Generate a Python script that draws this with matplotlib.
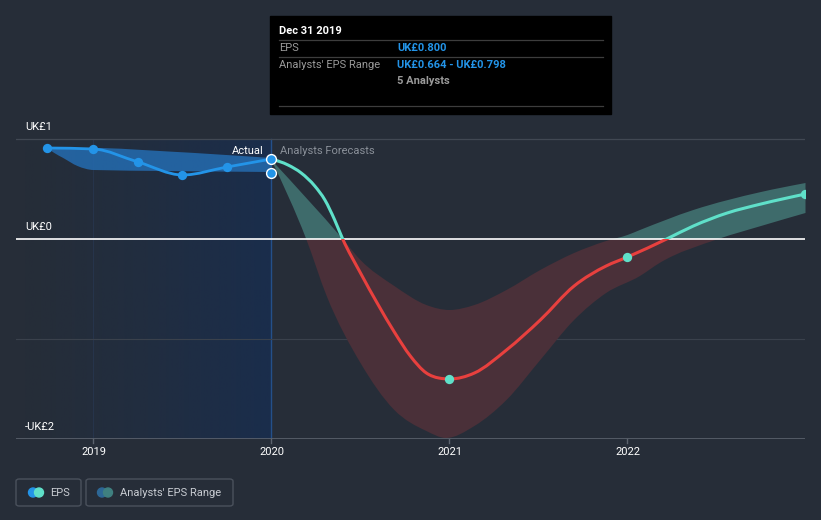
import numpy as np
import matplotlib
matplotlib.use("Agg")
import matplotlib.pyplot as plt
from matplotlib.patches import Rectangle, FancyBboxPatch, Circle, PathPatch
from matplotlib.path import Path
from matplotlib.colors import LinearSegmentedColormap

plt.rcParams['font.family'] = ['Roboto', 'DejaVu Sans']

# --- data ---
hist_years = [2018.74, 2019.0, 2019.25, 2019.5, 2019.75, 2020.0]
hist_eps = [0.91, 0.90, 0.77, 0.64, 0.72, 0.80]

hist_band_years = [2018.74, 2018.78, 2018.83, 2018.91, 2019.0, 2019.41, 2020.0]
hist_band_hi = [0.91, 0.91, 0.91, 0.91, 0.91, 0.876, 0.81]
hist_band_lo = [0.91, 0.86, 0.81, 0.73, 0.69, 0.68, 0.67]

est_low_2020 = 0.664

fc_years = [2020.0, 2020.093, 2020.167, 2020.243, 2020.30, 2020.355, 2020.40, 2020.50,
            2020.60, 2020.69, 2020.78, 2020.87, 2020.94, 2021.0, 2021.14, 2021.32,
            2021.51, 2021.70, 2021.88, 2022.0, 2022.22, 2022.37, 2022.56, 2022.75, 2023.0]
fc_eps = [0.80, 0.74, 0.66, 0.53, 0.39, 0.19, 0.0, -0.34,
          -0.66, -0.93, -1.17, -1.34, -1.39, -1.40, -1.34, -1.11,
          -0.81, -0.47, -0.27, -0.18, 0.0, 0.13, 0.26, 0.35, 0.45]

fc_dot_years = [2021.0, 2022.0, 2023.0]
fc_dot_eps = [-1.40, -0.18, 0.45]

hi_years = [2020.0, 2020.40, 2020.50, 2020.69, 2020.87, 2021.0, 2021.14, 2021.32,
            2021.51, 2021.70, 2021.88, 2022.0, 2022.07, 2022.37, 2022.75, 2023.0]
hi_eps = [0.79, 0.0, -0.21, -0.47, -0.66, -0.71, -0.66, -0.51,
          -0.31, -0.14, -0.02, 0.04, 0.09, 0.29, 0.47, 0.56]

lo_years = [2020.0, 2020.195, 2020.31, 2020.50, 2020.69, 2020.87, 2020.98, 2021.14,
            2021.32, 2021.51, 2021.70, 2021.88, 2022.07, 2022.18, 2022.51, 2022.75, 2023.0]
lo_eps = [0.79, 0.0, -0.57, -1.24, -1.71, -1.92, -1.99, -1.87,
          -1.61, -1.21, -0.81, -0.54, -0.37, -0.24, 0.0, 0.13, 0.26]

year_ticks = [2019, 2020, 2021, 2022]
y_labels = {1: "UK£1", 0: "UK£0", -2: "-UK£2"}

BG = '#262d38'
BLUE = '#2394e8'
CYAN = '#5fe0c9'
RED = '#e8403e'

W, H = 821, 520


def fx(px):
    return px / W


def fy(py):
    return 1 - py / H


def curve_verts(xs, ys):
    # monotone cubic bezier through the points (same idea as d3 curveMonotoneX)
    x = np.asarray(xs, float)
    y = np.asarray(ys, float)
    h = np.diff(x)
    d = np.diff(y) / h
    m = np.zeros(len(x))
    for i in range(1, len(x) - 1):
        s0, s1 = d[i - 1], d[i]
        p = (s0 * h[i] + s1 * h[i - 1]) / (h[i - 1] + h[i])
        m[i] = (np.sign(s0) + np.sign(s1)) * min(abs(s0), abs(s1), 0.5 * abs(p))
    m[0] = (3 * d[0] - m[1]) / 2
    m[-1] = (3 * d[-1] - m[-2]) / 2
    verts = [(x[0], y[0])]
    for i in range(len(x) - 1):
        dx = h[i] / 3
        verts += [(x[i] + dx, y[i] + m[i] * dx), (x[i + 1] - dx, y[i + 1] - m[i + 1] * dx),
                  (x[i + 1], y[i + 1])]
    return verts


def line_path(xs, ys):
    v = curve_verts(xs, ys)
    return Path(v, [Path.MOVETO] + [Path.CURVE4] * (len(v) - 1))


def area_path(hx, hy, lx, ly):
    vh = curve_verts(hx, hy)
    vl = curve_verts(lx, ly)[::-1]
    verts = vh + vl + [vh[0]]
    codes = ([Path.MOVETO] + [Path.CURVE4] * (len(vh) - 1) + [Path.LINETO]
             + [Path.CURVE4] * (len(vl) - 1) + [Path.CLOSEPOLY])
    return Path(verts, codes)


fig = plt.figure(figsize=(W / 100, H / 100), dpi=100, facecolor=BG)
ax = fig.add_axes([fx(16), fy(439), (805 - 16) / W, (439 - 100) / H])
ax.set_facecolor(BG)
x0 = 2020 + (16 - 271.5) / 178
x1 = 2020 + (805 - 271.5) / 178
ax.set_xlim(x0, x1)
ax.set_ylim(-2, 1.39)
for s in ax.spines.values():
    s.set_visible(False)
ax.set_xticks([])
ax.set_yticks([])

# past-period highlight
grad = np.linspace(0, 1, 256).reshape(1, -1)
cmap = LinearSegmentedColormap.from_list('g', [BG, '#212d40', '#1a2d4c'])
ax.imshow(grad, extent=[x0 + 0.05, 2020, -2, 1], aspect='auto', cmap=cmap, zorder=0)
ax.axvline(2019, ymin=0, ymax=3 / 3.39, color='#26344b', lw=0.8, zorder=1)
ax.axvline(2020, ymin=0, ymax=3 / 3.39, color='#24508a', lw=1, zorder=1)

# grid
ax.axhline(1, color='#414853', lw=0.9, zorder=1)
ax.axhline(-1, color='#3a414c', lw=0.8, zorder=1)
ax.axhline(-2, color='#5c636e', lw=1.2, zorder=6)
for v, lab in y_labels.items():
    ax.text(2020 + (25 - 271.5) / 178, v + 0.12, lab, color='white', fontsize=8,
            va='center', ha='left', zorder=7)

# historical band + line
ax.add_patch(PathPatch(area_path(hist_band_years, hist_band_hi, hist_band_years, hist_band_lo),
                       facecolor='#2468aa', alpha=0.9, lw=0, zorder=2))
ax.add_patch(PathPatch(line_path(hist_years, hist_eps), facecolor='none', edgecolor=BLUE,
                       lw=2, zorder=4))
ax.scatter(hist_years[:-1], hist_eps[:-1], s=45, color=BLUE, zorder=5, lw=0)
ax.scatter([2020.0, 2020.0], [hist_eps[-1], est_low_2020], s=50, color=BLUE,
           edgecolor='white', lw=1, zorder=6)

# forecast band, split at zero
band = area_path(hi_years, hi_eps, lo_years, lo_eps)
top = ax.add_patch(PathPatch(band, facecolor='#3e6b6b', lw=0, zorder=2))
bot = ax.add_patch(PathPatch(band, facecolor='#4a3039', lw=0, zorder=2))
top.set_clip_path(Rectangle((2019.9, 0), 4, 3, transform=ax.transData))
bot.set_clip_path(Rectangle((2019.9, -3), 4, 3, transform=ax.transData))

fc_line = line_path(fc_years, fc_eps)
la = ax.add_patch(PathPatch(fc_line, facecolor='none', edgecolor=CYAN, lw=2.2, zorder=4))
lb = ax.add_patch(PathPatch(fc_line, facecolor='none', edgecolor=RED, lw=2.2, zorder=4))
la.set_clip_path(Rectangle((2019.9, 0), 4, 3, transform=ax.transData))
lb.set_clip_path(Rectangle((2019.9, -3), 4, 3, transform=ax.transData))
ax.scatter(fc_dot_years, fc_dot_eps, s=45, color=CYAN, lw=0, zorder=5)

ax.axhline(0, color='white', lw=1.2, zorder=3)

ax.text(2020 - 8 / 178, 0.88, "Actual", color='white', fontsize=8, ha='right',
        va='center', zorder=7)
ax.text(2020 + 9 / 178, 0.88, "Analysts Forecasts", color='#8a9099', fontsize=8,
        ha='left', va='center', zorder=7)

# x ticks
for yr in year_ticks:
    ax.plot([yr, yr], [-2, -2.04], color='#5c636e', lw=1, clip_on=False)
    ax.text(yr, -2.13, str(yr), color='white', fontsize=8, ha='center', va='center',
            clip_on=False)

# tooltip
fig.patches.append(Rectangle((fx(270), fy(114)), (611 - 270) / W, (114 - 16) / H,
                             transform=fig.transFigure, color='black', zorder=10))
for py in [40, 57, 106]:
    fig.add_artist(plt.Line2D([fx(279), fx(603)], [fy(py), fy(py)], color='#3d3d3d',
                              lw=0.9, zorder=11))
fig.text(fx(279), fy(31), "Dec 31 2019", color='white', fontsize=8, fontweight='bold',
         va='center', zorder=12)
fig.text(fx(279), fy(48), "EPS", color='#9a9a9a', fontsize=8, va='center', zorder=12)
fig.text(fx(397), fy(48), "UK£0.800", color='#2394e8', fontsize=8, fontweight='bold',
         va='center', zorder=12)
fig.text(fx(279), fy(65), "Analysts' EPS Range", color='#9a9a9a', fontsize=8,
         va='center', zorder=12)
fig.text(fx(397), fy(65), "UK£0.664 - UK£0.798", color='#2394e8', fontsize=8,
         fontweight='bold', va='center', zorder=12)
fig.text(fx(397), fy(81), "5 Analysts", color='#9a9a9a', fontsize=8, fontweight='bold',
         va='center', zorder=12)

# legend
for (xa, xb) in [(16, 81), (86, 233)]:
    fig.patches.append(FancyBboxPatch((fx(xa), fy(506)), (xb - xa) / W, (506 - 479) / H,
                                      boxstyle='round,pad=0,rounding_size=0.004',
                                      transform=fig.transFigure, facecolor='none',
                                      edgecolor='#4a515c', lw=1))
ax_leg = fig.add_axes([0, 0, 1, 1], facecolor='none')
ax_leg.set_xlim(0, W)
ax_leg.set_ylim(H, 0)
ax_leg.axis('off')
ax_leg.add_patch(Circle((33, 492.5), 4.5, color=BLUE))
ax_leg.add_patch(Circle((39, 492.5), 4.5, color=CYAN))
ax_leg.add_patch(Circle((102, 492.5), 4.5, color='#2d6796'))
ax_leg.add_patch(Circle((108, 492.5), 4.5, color='#3f8080'))
ax_leg.set_aspect('equal')
fig.text(fx(50), fy(492.5), "EPS", color='#c8ccd2', fontsize=8, va='center')
fig.text(fx(120), fy(492.5), "Analysts' EPS Range", color='#c8ccd2', fontsize=8,
         va='center')

fig.savefig('out.png', dpi=100, facecolor=BG)
